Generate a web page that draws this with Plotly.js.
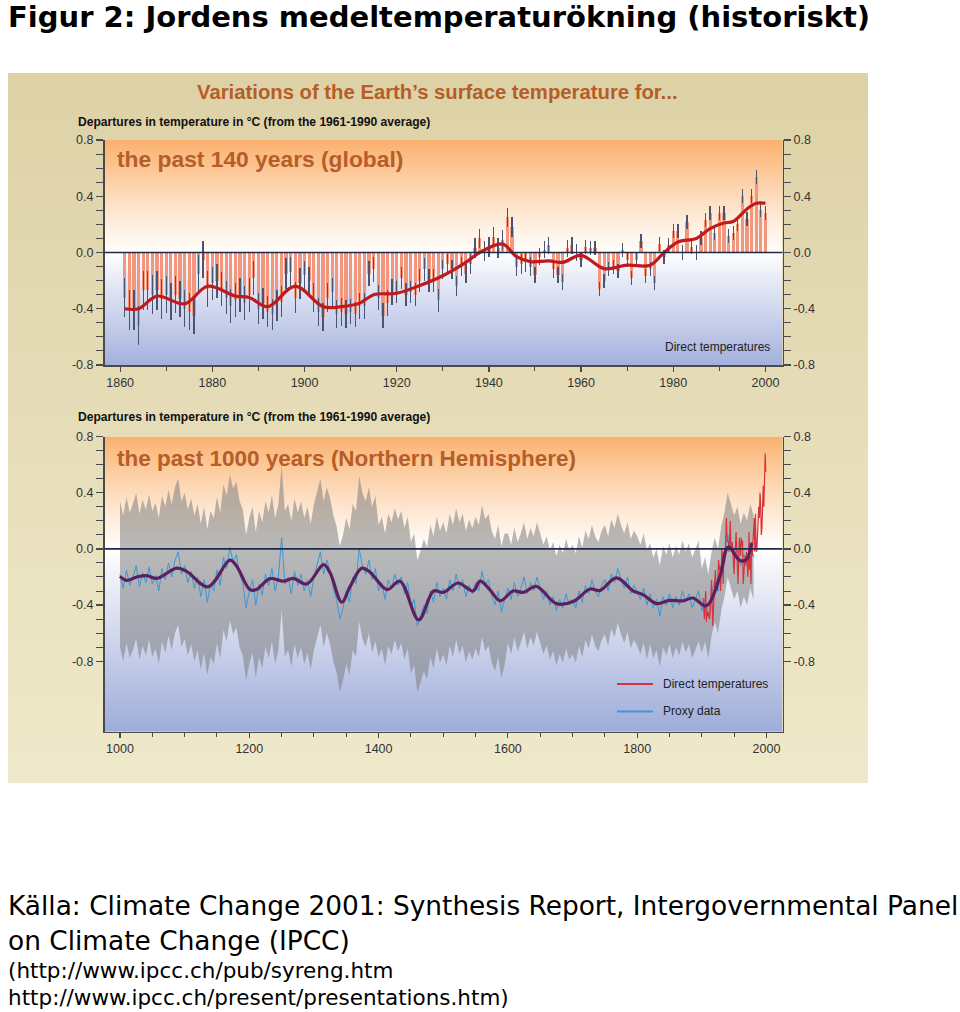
<!DOCTYPE html>
<html><head><meta charset="utf-8">
<script src="https://cdn.plot.ly/plotly-3.0.1.min.js"></script>
<style>html,body{margin:0;padding:0;background:#fff;}#chart{width:960px;height:1012px;}</style>
</head><body><div id="chart"></div>
<script>
// ================= DATA =================
// Top panel: global annual anomalies 1861-2000 (°C vs 1961-1990)
const globalStartYear = 1861;
const globalAnomaly = [
 -0.32,-0.41,-0.41,-0.52,-0.27,-0.27,-0.30,-0.27,-0.33,-0.30,
 -0.35,-0.30,-0.33,-0.40,-0.42,-0.45,-0.15,-0.05,-0.26,-0.22,
 -0.20,-0.26,-0.32,-0.38,-0.34,-0.30,-0.36,-0.30,-0.18,-0.40,
 -0.36,-0.42,-0.44,-0.38,-0.35,-0.15,-0.14,-0.32,-0.22,-0.16,
 -0.20,-0.32,-0.42,-0.46,-0.32,-0.28,-0.44,-0.42,-0.44,-0.42,
 -0.44,-0.38,-0.38,-0.15,-0.12,-0.32,-0.45,-0.36,-0.28,-0.28,
 -0.18,-0.30,-0.28,-0.30,-0.20,-0.12,-0.20,-0.20,-0.34,-0.12,
 -0.08,-0.12,-0.24,-0.10,-0.15,-0.08,0.03,0.10,0.01,0.04,
 0.11,0.03,0.09,0.25,0.18,-0.10,-0.08,-0.07,-0.10,-0.16,
 -0.03,0.02,0.05,-0.12,-0.16,-0.21,0.03,0.05,0.00,-0.05,
 0.04,0.03,0.03,-0.26,-0.20,-0.12,-0.10,-0.13,0.02,-0.05,
 -0.18,-0.05,0.08,-0.17,-0.12,-0.22,0.06,-0.03,0.05,0.15,
 0.15,0.00,0.22,0.04,0.00,0.10,0.23,0.28,0.14,0.28,
 0.28,0.12,0.14,0.20,0.40,0.24,0.40,0.54,0.30,0.28
];
// 95% uncertainty half-range per decade (1860s ... 1990s)
const globalErrDecades = [1860,1870,1880,1890,1900,1910,1920,1930,1940,1950,1960,1970,1980,1990];
const globalErrByDecade = [0.14,0.13,0.12,0.11,0.10,0.09,0.08,0.07,0.07,0.06,0.05,0.05,0.05,0.05];
// Smoothed (decadal) global curve
const globalSmoothYears = [1861,1864,1868,1874,1879,1885,1888,1892,1898,1904,1908,1912,1915,1920,1925,1930,1935,1938,1943,1946,1949,1953,1956,1960,1965,1970,1975,1978,1981,1985,1988,1991,1993,1996,1998,2000];
const globalSmoothVals  = [-0.40,-0.40,-0.31,-0.365,-0.24,-0.31,-0.32,-0.385,-0.24,-0.385,-0.385,-0.36,-0.30,-0.29,-0.235,-0.165,-0.07,0.0,0.06,-0.03,-0.065,-0.06,-0.07,-0.02,-0.115,-0.09,-0.09,0.0,0.075,0.10,0.17,0.21,0.22,0.31,0.35,0.35];

// Bottom panel: NH proxy reconstruction, every 5 years 1000-1980
const proxyStartYear = 1000;
const proxyStep = 5;
const proxyVals = [
 -0.18,-0.28,-0.15,-0.26,-0.20,-0.12,-0.27,-0.17,-0.24,-0.13,
 -0.25,-0.19,-0.30,-0.14,-0.22,-0.10,-0.20,-0.08,-0.02,-0.18,
 -0.12,-0.24,-0.16,-0.28,-0.20,-0.34,-0.22,-0.38,-0.25,-0.30,
 -0.15,-0.26,-0.06,-0.14,0.01,-0.09,-0.04,-0.18,-0.24,-0.42,
 -0.30,-0.22,-0.40,-0.25,-0.33,-0.18,-0.26,-0.14,-0.30,-0.20,
 0.08,-0.25,-0.20,-0.32,-0.16,-0.26,-0.18,-0.30,-0.22,-0.34,
 -0.20,-0.10,-0.02,-0.18,-0.08,-0.16,-0.28,-0.36,-0.50,-0.42,
 -0.30,-0.38,-0.20,-0.25,0.00,-0.12,-0.18,-0.08,-0.22,-0.14,
 -0.30,-0.24,-0.36,-0.22,-0.28,-0.18,-0.26,-0.20,-0.32,-0.24,
 -0.42,-0.36,-0.55,-0.48,-0.40,-0.46,-0.30,-0.38,-0.24,-0.34,
 -0.28,-0.36,-0.22,-0.30,-0.18,-0.28,-0.22,-0.34,-0.26,-0.32,
 -0.24,-0.30,-0.16,-0.26,-0.22,-0.34,-0.40,-0.30,-0.45,-0.36,
 -0.28,-0.36,-0.24,-0.34,-0.28,-0.20,-0.32,-0.24,-0.30,-0.20,
 -0.28,-0.36,-0.30,-0.40,-0.34,-0.44,-0.36,-0.42,-0.32,-0.40,
 -0.36,-0.42,-0.30,-0.38,-0.26,-0.32,-0.22,-0.30,-0.34,-0.26,
 -0.22,-0.30,-0.18,-0.24,-0.14,-0.22,-0.28,-0.20,-0.32,-0.26,
 -0.30,-0.36,-0.28,-0.40,-0.32,-0.42,-0.36,-0.48,-0.34,-0.40,
 -0.32,-0.42,-0.34,-0.40,-0.30,-0.38,-0.32,-0.42,-0.36,-0.30,
 -0.44,-0.36,-0.48,-0.32,-0.22,-0.30,-0.14,-0.04,0.10,0.02,
 -0.06,0.00,-0.12,-0.04,-0.10,0.02,-0.06
];
// 2-sigma uncertainty half-width, by period start year
const bandPeriodStart = [1000,1400,1600,1820,1900];
const bandHalfWidth   = [0.52,0.47,0.39,0.36,0.30];
// Smoothed NH curve
const nhSmoothYears = [1000,1010,1026,1041,1057,1088,1103,1136,1170,1180,1201,1211,1232,1253,1268,1289,1315,1325,1343,1356,1374,1387,1413,1433,1462,1485,1500,1523,1546,1557,1572,1588,1608,1624,1644,1675,1701,1727,1742,1768,1794,1809,1830,1850,1871,1886,1907,1928,1941,1959,1969,1977];
const nhSmoothVals  = [-0.196,-0.224,-0.20,-0.19,-0.21,-0.137,-0.16,-0.27,-0.08,-0.12,-0.29,-0.29,-0.212,-0.23,-0.21,-0.25,-0.112,-0.17,-0.38,-0.267,-0.137,-0.167,-0.29,-0.23,-0.505,-0.30,-0.31,-0.243,-0.30,-0.23,-0.29,-0.37,-0.30,-0.31,-0.267,-0.39,-0.375,-0.286,-0.297,-0.207,-0.30,-0.326,-0.39,-0.367,-0.37,-0.35,-0.405,-0.196,0.014,-0.083,-0.076,0.04];
// NH direct (instrumental) temperatures 1902-1999
const directStartYear = 1902;
const directVals = [
 -0.35,-0.45,-0.50,-0.38,-0.30,-0.52,-0.45,-0.48,-0.45,-0.48,
 -0.50,-0.45,-0.25,-0.22,-0.40,-0.55,-0.42,-0.32,-0.30,-0.15,
 -0.30,-0.25,-0.30,-0.18,-0.08,-0.15,-0.12,-0.30,-0.05,0.00,
 -0.05,-0.25,-0.02,-0.10,-0.05,0.10,0.22,0.08,0.05,0.06,
 -0.02,0.08,0.20,0.02,-0.02,0.05,-0.02,-0.08,-0.18,-0.02,
 0.02,0.12,-0.10,-0.12,-0.25,0.02,0.08,0.02,-0.05,0.08,
 0.02,0.06,-0.25,-0.18,-0.08,-0.05,-0.12,-0.02,-0.05,-0.20,
 -0.12,0.12,-0.15,-0.05,-0.25,0.05,-0.05,0.02,0.10,0.22,
 -0.02,0.25,0.00,-0.02,0.08,0.18,0.30,0.22,0.40,0.32,
 0.10,0.15,0.30,0.45,0.30,0.50,0.68,0.55
];

// Tick labels
const topXTicks = [1860,1880,1900,1920,1940,1960,1980,2000];
const bottomXTicks = [1000,1200,1400,1600,1800,2000];
const yTickVals = [-0.8,-0.4,0,0.4,0.8];
const yTickText = ['-0.8','-0.4','0.0','0.4','0.8'];

// ================= BUILD =================
const W = 960, H = 1012;
const px = v => v / W, py = v => 1 - v / H;

const globalYears = globalAnomaly.map((_, i) => globalStartYear + i);
const globalErr = globalYears.map(y => {
  let idx = 0;
  globalErrDecades.forEach((d, i) => { if (y >= d) idx = i; });
  return globalErrByDecade[idx];
});
const proxyYears = proxyVals.map((_, i) => proxyStartYear + i * proxyStep);
const halfFor = y => { let h = bandHalfWidth[0]; bandPeriodStart.forEach((s, i) => { if (y >= s) h = bandHalfWidth[i]; }); return h; };
const bandLow = proxyVals.map((v, i) => v - halfFor(proxyYears[i]));
const bandHigh = proxyVals.map((v, i) => v + halfFor(proxyYears[i]));
const directYears = directVals.map((_, i) => directStartYear + i);

const traces = [
  { type: 'bar', x: globalYears, y: globalAnomaly, width: 0.7, xaxis: 'x', yaxis: 'y',
    marker: { color: '#f2967d', line: { width: 0 } },
    error_y: { type: 'data', array: globalErr, visible: true, color: '#4b5470', thickness: 1.3, width: 0 },
    hoverinfo: 'skip' },
  { type: 'scatter', mode: 'lines', x: globalSmoothYears, y: globalSmoothVals, xaxis: 'x', yaxis: 'y',
    line: { color: '#c0191e', width: 3.2, shape: 'spline', smoothing: 1 } },
  { type: 'scatter', mode: 'lines', x: [], y: [], xaxis: 'x', yaxis: 'y3' },
  { type: 'scatter', mode: 'lines', x: proxyYears, y: bandLow, xaxis: 'x2', yaxis: 'y2',
    line: { width: 0, color: 'rgba(0,0,0,0)' } },
  { type: 'scatter', mode: 'lines', x: proxyYears, y: bandHigh, xaxis: 'x2', yaxis: 'y2',
    fill: 'tonexty', fillcolor: 'rgba(128,128,128,0.55)', line: { width: 0, color: 'rgba(0,0,0,0)' } },
  { type: 'scatter', mode: 'lines', x: proxyYears, y: proxyVals, xaxis: 'x2', yaxis: 'y2',
    line: { color: '#3a98d6', width: 1 } },
  { type: 'scatter', mode: 'lines', x: directYears, y: directVals, xaxis: 'x2', yaxis: 'y2',
    line: { color: '#d8333b', width: 1.2 } },
  { type: 'scatter', mode: 'lines', x: nhSmoothYears, y: nhSmoothVals, xaxis: 'x2', yaxis: 'y2',
    line: { color: '#5e1f5e', width: 3.2, shape: 'spline', smoothing: 1 } },
  { type: 'scatter', mode: 'lines', x: [], y: [], xaxis: 'x2', yaxis: 'y4' }
];

const axC = '#4a4a4a';
const tickFont = { family: 'Liberation Sans, Arial, sans-serif', size: 12.5, color: '#333' };
const minorY = [];
for (let k = -8; k <= 8; k++) if (k % 4 !== 0) minorY.push(k / 10);
const minorTopX = topXTicks.slice(0, -1).map(v => v + 10);
const minorBotX = bottomXTicks.slice(0, -1).flatMap(v => [v + 50, v + 100, v + 150]);

function xAxis(domain, range, anchor, ticks, minor) {
  return { domain, range, anchor, showline: true, linecolor: axC, linewidth: 1.5,
    ticks: 'outside', ticklen: 5, tickwidth: 1.2, tickcolor: axC,
    tickmode: 'array', tickvals: ticks, ticktext: ticks.map(String), tickfont: tickFont,
    minor: { tickmode: 'array', tickvals: minor, ticks: 'outside', ticklen: 4, tickwidth: 1, tickcolor: axC },
    showgrid: false, zeroline: false, fixedrange: true };
}
function yAxis(domain, range, anchor, extra) {
  return Object.assign({ domain, range, anchor, showline: true, linecolor: axC, linewidth: 1.5,
    ticks: 'outside', ticklen: 7, tickwidth: 1.2, tickcolor: axC,
    tickmode: 'array', tickvals: yTickVals, ticktext: yTickText, tickfont: tickFont,
    minor: { tickmode: 'array', tickvals: minorY, ticks: 'outside', ticklen: 7, tickwidth: 1, tickcolor: axC },
    showgrid: false, zeroline: false, fixedrange: true }, extra || {});
}

const dx = [px(104.5), px(782.5)];
const dyTop = [py(365), py(140)];
const dyBot = [py(731.7), py(436.7)];
const topRange = [-0.8, 0.8];
const botRange = [-1.303, 0.8];

function grad(w, h, stops) {
  const s = stops.map(([o, c]) => `<stop offset="${o}" stop-color="${c}"/>`).join('');
  const svg = `<svg xmlns="http://www.w3.org/2000/svg" width="${w}" height="${h}" viewBox="0 0 ${w} ${h}" preserveAspectRatio="none"><defs><linearGradient id="g" x1="0" y1="0" x2="0" y2="1">${s}</linearGradient></defs><rect x="0" y="0" width="${w}" height="${h}" fill="url(#g)"/></svg>`;
  return 'data:image/svg+xml;charset=utf-8,' + encodeURIComponent(svg);
}
const beige = grad(860, 710, [['0', '#ddd1a6'], ['1', '#efe9cb']]);
const gTop = grad(678, 225, [['0', '#fbb06f'], ['0.12', '#fcc491'], ['0.25', '#fddcbc'], ['0.40', '#fef2e6'], ['0.49', '#fffbf7'], ['0.5', '#ffffff'], ['0.62', '#e7ebf6'], ['0.8', '#c8d0eb'], ['1', '#a2b0dc']]);
const gBot = grad(678, 295, [['0', '#fbb06f'], ['0.10', '#fcc999'], ['0.22', '#fde2c8'], ['0.33', '#fef5ec'], ['0.38', '#ffffff'], ['0.5', '#eceef7'], ['0.7', '#ccd3ec'], ['1', '#9eacd9']]);

const chartFont = 'Liberation Sans, Arial, sans-serif';
const pageFont = 'DejaVu Sans, Liberation Sans, sans-serif';
function ann(text, x, y, size, color, bold, anchor, family) {
  return { text: bold ? '<b>' + text + '</b>' : text, xref: 'paper', yref: 'paper', x: px(x), y: py(y),
    xanchor: anchor || 'left', yanchor: 'middle', showarrow: false,
    font: { family: family || chartFont, size, color } };
}
const titleC = '#b65d28';
const annotations = [
  ann('Figur 2: Jordens medeltemperaturökning (historiskt)', 6, 17, 29, '#000', true, 'left', pageFont),
  ann('Variations of the Earth\u2019s surface temperature for...', 437, 92, 20.3, titleC, true, 'center'),
  ann('Departures in temperature in °C (from the 1961-1990 average)', 76, 122, 12.1, '#111', true),
  ann('the past 140 years (global)', 115, 159, 22.8, titleC, true),
  ann('Direct temperatures', 772, 347, 12, '#222', false, 'right'),
  ann('Departures in temperature in °C (from the 1961-1990 average)', 76, 417, 12.1, '#111', true),
  ann('the past 1000 years (Northern Hemisphere)', 115, 459, 22.5, titleC, true),
  ann('Direct temperatures', 661, 684, 12, '#222', false),
  ann('Proxy data', 661, 711, 12, '#222', false),
  ann('Källa: Climate Change 2001: Synthesis Report, Intergovernmental Panel', 6, 905, 26.4, '#000', false, 'left', pageFont),
  ann('on Climate Change (IPCC)', 6, 940, 26.4, '#000', false, 'left', pageFont),
  ann('(http://www.ipcc.ch/pub/syreng.htm', 6, 970, 21.5, '#000', false, 'left', pageFont),
  ann('http://www.ipcc.ch/present/presentations.htm)', 6, 997, 21.5, '#000', false, 'left', pageFont)
];

const shapes = [
  { type: 'line', xref: 'x domain', yref: 'y', x0: 0, x1: 1, y0: 0, y1: 0, line: { color: '#1e2a48', width: 1.6 }, layer: 'above' },
  { type: 'line', xref: 'x2 domain', yref: 'y2', x0: 0, x1: 1, y0: 0, y1: 0, line: { color: '#1e2a48', width: 1.6 }, layer: 'above' },
  { type: 'line', xref: 'paper', yref: 'paper', x0: px(617), x1: px(653), y0: py(684), y1: py(684), line: { color: '#d8333b', width: 2 } },
  { type: 'line', xref: 'paper', yref: 'paper', x0: px(617), x1: px(653), y0: py(711.5), y1: py(711.5), line: { color: '#3a98d6', width: 2 } }
];

const layout = {
  width: W, height: H, margin: { l: 0, r: 0, t: 0, b: 0 },
  paper_bgcolor: '#ffffff', plot_bgcolor: 'rgba(0,0,0,0)', showlegend: false,
  font: { family: chartFont },
  xaxis: xAxis(dx, [1856.6, 2003.7], 'y', topXTicks, minorTopX),
  yaxis: yAxis(dyTop, topRange, 'x'),
  yaxis3: yAxis(dyTop, topRange, 'x', { overlaying: 'y', side: 'right' }),
  xaxis2: xAxis(dx, [976, 2024.8], 'y2', bottomXTicks, minorBotX),
  yaxis2: yAxis(dyBot, botRange, 'x2'),
  yaxis4: yAxis(dyBot, botRange, 'x2', { overlaying: 'y2', side: 'right' }),
  images: [
    { source: beige, xref: 'paper', yref: 'paper', x: px(8), y: py(73), sizex: 860 / W, sizey: 710 / H, xanchor: 'left', yanchor: 'top', sizing: 'stretch', layer: 'below' },
    { source: gTop, xref: 'x domain', yref: 'y domain', x: 0, y: 1, sizex: 1, sizey: 1, xanchor: 'left', yanchor: 'top', sizing: 'stretch', layer: 'below' },
    { source: gBot, xref: 'x2 domain', yref: 'y2 domain', x: 0, y: 1, sizex: 1, sizey: 1, xanchor: 'left', yanchor: 'top', sizing: 'stretch', layer: 'below' }
  ],
  annotations, shapes, bargap: 0
};

Plotly.newPlot('chart', traces, layout, { displayModeBar: false, staticPlot: true });
</script></body></html>
